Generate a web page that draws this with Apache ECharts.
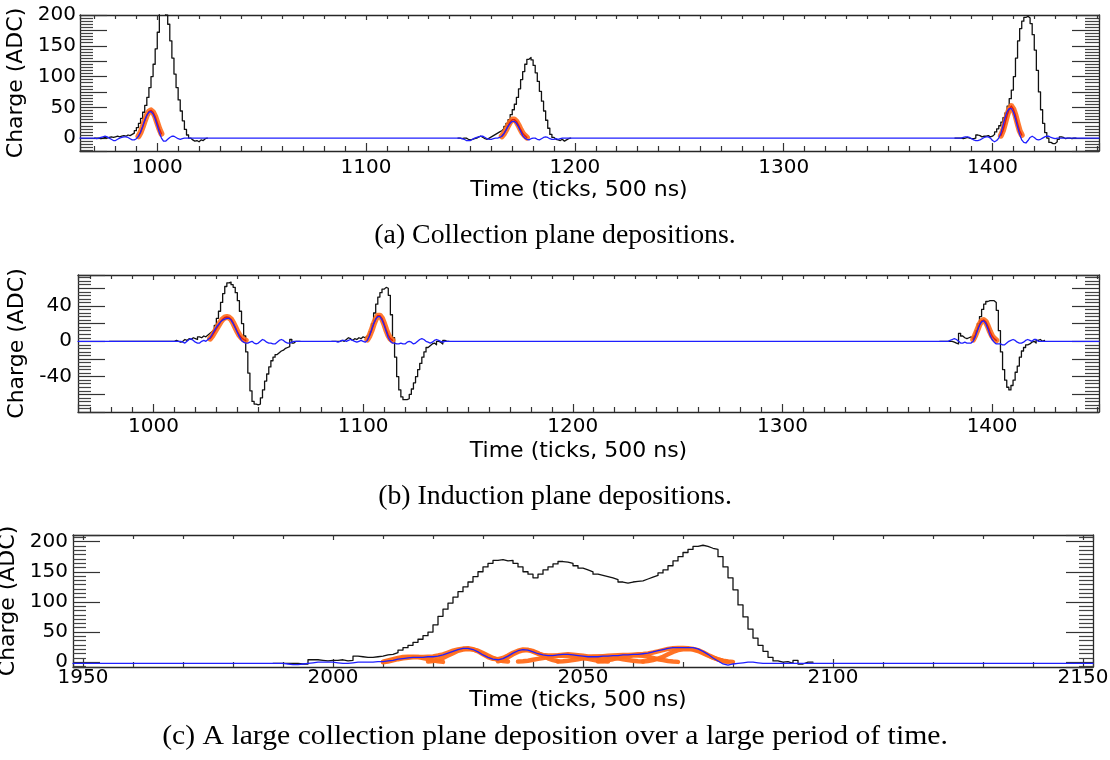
<!DOCTYPE html>
<html><head><meta charset="utf-8">
<script src="https://cdn.jsdelivr.net/npm/echarts@6/dist/echarts.min.js"></script>
<style>html,body{margin:0;padding:0;background:#fff}#c{width:1110px;height:760px}</style>
</head><body><div id="c"></div>
<script>
// ---------------- Panel (a): collection plane ----------------
const aXRange = [963, 1451];
const aYRange = [-21, 200];
const aXTicks = [1000, 1100, 1200, 1300, 1400];
const aYTicks = [0, 50, 100, 150, 200];

const aBlack1Start = 970;
const aBlack1 = [0,0,-1,0,1,0,1,2,1,2,3,2,3,4,3,5,4,6,8,12,17,24,32,42,53,66,82,100,120,145,172,205,222,226,200,185,158,130,104,82,62,44,28,14,5,0,-3,-5,-4,-6,-3,-4,-1,0,0];
const aBlack2Start = 1144;
const aBlack2 = [0,-1,0,0,-2,-3,-2,-1,0,2,3,1,-1,-2,0,2,4,6,8,10,12,15,19,24,30,38,46,55,66,80,95,108,120,128,131,127,118,106,92,76,60,44,29,16,6,1,-2,-3,-4,-2,-5,-3,-1,0,0];
const aBlack3Start = 1382;
const aBlack3 = [0,0,0,-1,0,1,0,-1,-1,0,5,4,2,3,3,4,2,3,6,10,15,20,26,33,41,52,64,78,100,130,158,178,190,196,198,195,186,168,143,110,75,46,24,9,0,-7,-9,-9,-6,-2,2,1,-1,0,0,-1,0,0,0];

const aBlue1Start = 965;
const aBlue1 = [0,0,0,0,0,0,-1,0,1,2,3,2,0,-2,-4,-4,-2,0,1,2,2,1,-1,-3,-3,-1,3,10,19,29,37,42,43,39,31,20,9,0,-5,-5,-2,1,3,3,1,-1,-2,-1,0,0,0];
const aBlue2Start = 1140;
const aBlue2 = [0,0,0,0,0,0,-1,-2,-4,-4,-4,-2,0,1,2,3,3,1,-1,-2,-2,-1,0,0,1,3,7,13,19,24,27,27,24,18,11,4,0,-2,-3,-1,0,0,-2,-3,-1,1,2,1,-1,-2,-2,-1,-2,-1,0,0];
const aBlue3Start = 1378;
const aBlue3 = [0,0,0,0,0,0,0,0,1,2,2,1,-1,-3,-4,-4,-3,-1,1,2,2,0,-4,-6,-4,0,8,20,33,43,48,48,42,31,18,6,-3,-7,-8,-4,1,3,1,-2,-3,-2,0,2,3,3,1,0,-1,0,0];

const aFit1Start = 991;
const aFit1 = [3,9,18,28,37,43,45,42,35,25,15,7];
const aFit2Start = 1165;
const aFit2 = [3,7,13,20,26,30,30,27,21,14,8,4,1];
const aFit3Start = 1404;
const aFit3 = [4,12,24,37,47,52,47,37,24,12,5];

// ---------------- Panel (b): induction plane ----------------
const bXRange = [964, 1451];
const bYRange = [-80, 75];
const bXTicks = [1000, 1100, 1200, 1300, 1400];
const bYTicks = [-40, 0, 40];

const bBlack1Start = 979;
const bBlack1 = [0,0,0,0,0,0,0,0,0,0,0,0,0,0,0,0,0,0,0,0,0,0,0,0,0,0,0,0,0,0,0,1,0,-1,0,2,1,3,2,4,3,2,5,4,6,5,7,9,11,13,18,26,34,44,54,62,66,67,64,61,55,46,34,20,6,-12,-36,-56,-68,-71,-72,-71,-64,-55,-45,-37,-29,-22,-18,-15,-13,-11,-10,-8,-7,-6,2,-2,0,0,0,0];
const bBlack2Start = 1085;
const bBlack2 = [0,0,0,0,1,0,2,4,3,1,3,2,4,3,5,4,6,8,11,20,32,42,50,55,59,61,60,52,30,4,-18,-40,-55,-63,-66,-66,-65,-60,-54,-47,-40,-32,-25,-18,-12,-7,-5,-3,-2,-4,0,-1,-3,1,0,0,0];
const bBlack3Start = 1375;
const bBlack3 = [0,0,0,0,0,0,-1,-2,-3,9,6,4,3,4,5,3,6,12,20,28,36,42,45,46,46,46,44,35,12,-12,-32,-44,-52,-55,-50,-44,-35,-28,-18,-11,-7,-4,-3,-1,0,-2,1,2,0,1,0];

const bBlue1Start = 1010;
const bBlue1 = [0,0,0,0,-1,-2,0,2,3,1,-1,-2,-2,0,1,0,2,4,8,12,16,19,22,24,25,26,26,24,20,15,10,5,1,-1,-2,-2,-1,0,-2,-3,-2,0,2,1,-1,-2,-2,-3,-3,-1,1,2,1,-1,-2,-2,-1,0,0];
const bBlue2Start = 1080;
const bBlue2 = [0,0,0,0,0,0,0,0,-1,0,1,1,0,1,2,1,0,-1,0,1,0,-1,1,6,13,20,25,28,28,24,18,11,4,0,-2,-2,-3,-3,-2,-3,-3,-1,0,-1,-3,-2,0,2,3,2,0,-1,-2,-1,1,2,1,0,-1,0,0];
const bBlue3Start = 1370;
const bBlue3 = [0,0,0,0,0,0,0,0,0,0,1,2,3,2,0,-2,-2,-1,-2,-2,-2,0,5,12,18,22,23,20,14,7,2,-1,-3,-3,-3,-4,-4,-2,0,1,2,1,-1,-2,-2,-1,1,2,1,0,2,2,0,0,0];

const bFit1Start = 1027;
const bFit1 = [3,6,10,14,18,22,25,27,27.5,27,25,21,16,11,7,4,2,1];
const bFit2Start = 1102;
const bFit2 = [2,6,12,19,25,29,29,26,20,13,7,3,1];
const bFit3Start = 1391;
const bFit3 = [2,7,13,19,23,24,22,17,11,6,3,1];

// ---------------- Panel (c): large collection deposition ----------------
const cXRange = [1948, 2152];
const cYRange = [-8, 211];
const cXTicks = [1950, 2000, 2050, 2100, 2150];
const cYTicks = [0, 50, 100, 150, 200];
const cBaseline = -2;

const cBlackStart = 1988;
const cBlack = [-2,-2,-2,-2,-2,-3,-3,4,4,3,2,3,3,4,2,3,10,9,8,8,9,10,12,13,16,20,24,28,33,38,44,50,62,76,88,98,108,117,125,133,142,150,158,164,169,170,168,169,164,158,150,146,140,146,153,158,163,167,166,164,160,156,153,150,146,144,142,140,137,133,131,133,134,135,138,141,144,148,153,160,168,175,182,187,192,194,192,189,187,175,158,140,120,95,75,55,40,28,18,8,2,0,1,-2,3,-3,0,0,0];

const cBlueStart = 1990;
const cBlue = [-2,-3,-4,-4,-3,-2,-1,0,0,0,0,-1,-2,-2,-1,0,0,0,0,1,1,2,3,5,6,7,8,8,8,9,9,10,12,15,18,21,23,23,21,17,12,8,5,4,6,10,15,19,21,20,17,14,12,11,11,12,13,13,12,11,10,9,9,9,10,10,11,11,12,12,13,13,14,15,17,19,21,23,24,24,24,24,24,22,18,13,7,2,-3,-5,-3,-2,-1,0,0,-1,-2,-2];

const cSumStart = 2010;
const cSum = [0,1,3,5,6.5,7.5,8,8.5,8.5,9,9.5,11,13,16,19,21,22.5,23,21.5,18,13,8.5,5.5,5,7,11,15.5,19,21,20.5,17.5,14,12,11,11,11.5,12.5,13,12.5,11.5,10.5,9.5,9.5,9.5,10,10.5,11,11.5,12,12,12.5,13,13.5,14.5,16,18,20,22,23,23.5,23.5,23,22,20,16.5,12,8,4.5,2,0.5];

const cComp1Start = 2010, cComp1 = [1,3,5,7,8.5,9,9,8.5,7,5,3,1.5,0.5];
const cComp2Start = 2019, cComp2 = [1,2,4,7,11,15,19,21,22,21,19,15,11,7,4,2,1];
const cComp3Start = 2033, cComp3 = [1.5,4,8,13,17,19.5,20,18.5,15,10.5,6.5,3.5,1.5];
const cComp4Start = 2037, cComp4 = [1,1.5,2.5,4,5.5,7,8.5,10,10.5,11,10.5,10,8.5,7,5.5,4,2.5,1.5,1];
const cComp5Start = 2045, cComp5 = [1,1.5,2.5,3.5,5,6.5,7.5,8.5,9,9,8.5,7.5,6.5,5,3.5,2.5,1.5,1];
const cComp6Start = 2053, cComp6 = [1,2,3.5,5,7,9,10,11,11,10.5,9,7,5,3.5,2,1,0.5];
const cComp7Start = 2062, cComp7 = [1,2,3.5,6,9,13,17,20,21.5,22,21,18.5,15,11,7.5,4.5,2.5,1,0.5];

const captions = [
  '(a) Collection plane depositions.',
  '(b) Induction plane depositions.',
  '(c) A large collection plane deposition over a large period of time.'
];
const xName = 'Time (ticks, 500 ns)';
const yName = 'Charge (ADC)';

// ---------------- building ----------------
const seq = (start, vals) => vals.map((v, i) => [start + i, v]);
const FONT = 'DejaVu Sans';
const AX = '#262626';

const grids = [
  {left: 80, top: 15, width: 1019, height: 136},
  {left: 78, top: 275, width: 1021, height: 137},
  {left: 73, top: 535, width: 1020, height: 132}
].map(g => Object.assign({outerBoundsMode: 'none', containLabel: false}, g));

const panels = [
  {x: aXRange, y: aYRange, xt: aXTicks, yt: aYTicks, xStep: 100, xMinor: 10, yStep: 25, yMinor: 5, xLM: 7, yLM: 4, xNG: 27, xPad: 21, cap: 236, capScale: 1.03},
  {x: bXRange, y: bYRange, xt: bXTicks, yt: bYTicks, xStep: 100, xMinor: 10, yStep: 20, yMinor: 5, xLM: 5, yLM: 6, xNG: 28, xPad: 20, cap: 497, capScale: 1.03},
  {x: cXRange, y: cYRange, xt: cXTicks, yt: cYTicks, xStep: 50, xMinor: 5, yStep: 50, yMinor: 7, xLM: 1, yLM: 5, xNG: 22, xPad: 10, cap: 737, capScale: 1.10}
];

const xAxis = [], yAxis = [];
panels.forEach((p, gi) => {
  const common = {type: 'value', gridIndex: gi, splitLine: {show: false}, minorSplitLine: {show: false}};
  const fmt = (list) => (v) => list.indexOf(Math.round(v * 1000) / 1000) >= 0 ? String(v) : '';
  xAxis.push(Object.assign({}, common, {
    position: 'bottom', min: p.x[0], max: p.x[1], minInterval: p.xStep, maxInterval: p.xStep,
    axisLine: {show: true, onZero: false, lineStyle: {color: AX, width: 1.3}},
    axisTick: {show: true, inside: true, length: 8, lineStyle: {color: '#333', width: 1.2}},
    minorTick: {show: true, splitNumber: p.xMinor, length: 5, lineStyle: {color: '#333', width: 1.2}},
    axisLabel: {show: true, margin: p.xLM, fontFamily: FONT, fontSize: 20, color: '#000', formatter: fmt(p.xt), showMinLabel: true, showMaxLabel: true},
    name: xName, nameLocation: 'middle', nameGap: p.xNG,
    nameTextStyle: {fontFamily: FONT, fontSize: 22, color: '#000', padding: [0, p.xPad, 0, 0]}
  }));
  xAxis.push(Object.assign({}, common, {
    position: 'top', min: p.x[0], max: p.x[1], minInterval: p.xStep, maxInterval: p.xStep,
    axisLine: {show: true, onZero: false, lineStyle: {color: AX, width: 1.3}},
    axisTick: {show: true, inside: true, length: 5, lineStyle: {color: '#333', width: 1.2}},
    minorTick: {show: true, splitNumber: p.xMinor, length: 4, lineStyle: {color: '#333', width: 1.2}},
    axisLabel: {show: false}
  }));
  yAxis.push(Object.assign({}, common, {
    position: 'left', min: p.y[0], max: p.y[1], minInterval: p.yStep, maxInterval: p.yStep,
    axisLine: {show: true, onZero: false, lineStyle: {color: AX, width: 1.3}},
    axisTick: {show: true, inside: true, length: 27, lineStyle: {color: '#333', width: 1.2}},
    minorTick: {show: true, splitNumber: p.yMinor, length: 13, lineStyle: {color: '#444', width: 1.2}},
    axisLabel: {show: true, margin: p.yLM, fontFamily: FONT, fontSize: 20, color: '#000', formatter: fmt(p.yt), showMinLabel: true, showMaxLabel: true},
    name: yName, nameLocation: 'middle', nameGap: 45,
    nameTextStyle: {fontFamily: FONT, fontSize: 22, color: '#000'}
  }));
  yAxis.push(Object.assign({}, common, {
    position: 'right', min: p.y[0], max: p.y[1], minInterval: p.yStep, maxInterval: p.yStep,
    axisLine: {show: true, onZero: false, lineStyle: {color: AX, width: 1.3}},
    axisTick: {show: true, inside: true, length: 27, lineStyle: {color: '#333', width: 1.2}},
    minorTick: {show: true, splitNumber: p.yMinor, length: 14, lineStyle: {color: '#444', width: 1.2}},
    axisLabel: {show: false}
  }));
});

const series = [];
function line(gi, data, color, width, step, opacity) {
  series.push({
    type: 'line', xAxisIndex: gi * 2, yAxisIndex: gi * 2, data: data,
    step: step || false, showSymbol: false, symbol: 'none', silent: true,
    clip: true, animation: false,
    lineStyle: {color: color, width: width, opacity: opacity == null ? 1 : opacity, join: 'round', cap: 'round'}
  });
}
const BLACK = '#111', BLUE = '#1f1fff', ORANGE = '#ff6b1a', RED = '#e01b0b';

// Panel a
[[aBlack1Start, aBlack1], [aBlack2Start, aBlack2], [aBlack3Start, aBlack3]].forEach(d => line(0, seq(d[0], d[1]), BLACK, 1.3, 'end'));
[[aFit1Start, aFit1], [aFit2Start, aFit2], [aFit3Start, aFit3]].forEach(d => { line(0, seq(d[0], d[1]), ORANGE, 6, false, 0.9); line(0, seq(d[0], d[1]), RED, 1.4); });
line(0, [[aXRange[0], 0]].concat(seq(aBlue1Start, aBlue1), seq(aBlue2Start, aBlue2), seq(aBlue3Start, aBlue3), [[aXRange[1], 0]]), BLUE, 1.3);

// Panel b
[[bBlack1Start, bBlack1], [bBlack2Start, bBlack2], [bBlack3Start, bBlack3]].forEach(d => line(1, seq(d[0], d[1]), BLACK, 1.3, 'end'));
[[bFit1Start, bFit1], [bFit2Start, bFit2], [bFit3Start, bFit3]].forEach(d => { line(1, seq(d[0], d[1]), ORANGE, 6, false, 0.9); line(1, seq(d[0], d[1]), RED, 1.4); });
line(1, [[bXRange[0], 0]].concat(seq(bBlue1Start, bBlue1), seq(bBlue2Start, bBlue2), seq(bBlue3Start, bBlue3), [[bXRange[1], 0]]), BLUE, 1.3);

// Panel c
line(2, seq(cBlackStart, cBlack), BLACK, 1.3, 'end');
[[cComp1Start, cComp1], [cComp2Start, cComp2], [cComp3Start, cComp3], [cComp4Start, cComp4], [cComp5Start, cComp5], [cComp6Start, cComp6], [cComp7Start, cComp7]]
  .forEach(d => line(2, seq(d[0], d[1]), ORANGE, 4.5, false, 0.95));
line(2, seq(cSumStart, cSum), ORANGE, 4.5, false, 0.95);
line(2, [[cXRange[0], cBaseline]].concat(seq(cBlueStart, cBlue), [[cXRange[1], cBaseline]]), BLUE, 1.3);

const graphic = captions.map((t, i) => ({
  type: 'text', x: 555, y: panels[i].cap, scaleX: panels[i].capScale, silent: true,
  style: {text: t, fontFamily: 'Liberation Serif', fontSize: 27, fill: '#000', align: 'center', verticalAlign: 'middle', textAlign: 'center', textVerticalAlign: 'middle'}
}));

const chart = echarts.init(document.getElementById('c'), null, {renderer: 'canvas'});
chart.setOption({
  animation: false,
  backgroundColor: '#fff',
  grid: grids,
  xAxis: xAxis,
  yAxis: yAxis,
  series: series,
  graphic: graphic
});
</script></body></html>
